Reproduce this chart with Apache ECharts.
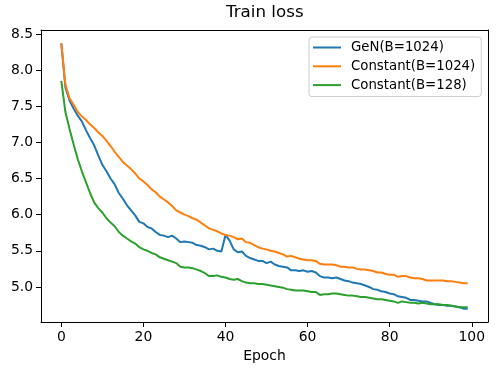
<!DOCTYPE html>
<html>
<head>
<meta charset="utf-8">
<script src="https://cdn.jsdelivr.net/npm/echarts@6/dist/echarts.min.js"></script>
<style>
  html, body { margin: 0; padding: 0; background: #fff; }
  #main { width: 499px; height: 372px; }
</style>
</head>
<body>
<div id="main"></div>
<script>
// epochs 0..99
var epochs = [];
for (var i = 0; i < 100; i++) epochs.push(i);

var genB1024 = [
  8.37, 7.76, 7.58, 7.47, 7.37, 7.29, 7.17, 7.06, 6.96, 6.82,
  6.69, 6.60, 6.50, 6.42, 6.30, 6.22, 6.13, 6.06, 5.99, 5.90,
  5.88, 5.83, 5.81, 5.76, 5.72, 5.71, 5.69, 5.71, 5.67, 5.62,
  5.63, 5.62, 5.61, 5.58, 5.57, 5.55, 5.52, 5.53, 5.50, 5.49,
  5.72, 5.64, 5.52, 5.48, 5.49, 5.43, 5.40, 5.38, 5.36, 5.36,
  5.33, 5.35, 5.31, 5.29, 5.28, 5.27, 5.23, 5.23, 5.22, 5.23,
  5.21, 5.22, 5.20, 5.15, 5.13, 5.13, 5.12, 5.13, 5.11, 5.09,
  5.08, 5.06, 5.05, 5.04, 5.02, 5.00, 4.97, 4.96, 4.94, 4.93,
  4.91, 4.90, 4.87, 4.86, 4.85, 4.82, 4.82, 4.81, 4.80, 4.80,
  4.78, 4.76, 4.75, 4.75, 4.74, 4.74, 4.73, 4.72, 4.70, 4.70
];

var constB1024 = [
  8.37, 7.80, 7.61, 7.52, 7.42, 7.36, 7.31, 7.25, 7.20, 7.14,
  7.09, 7.02, 6.95, 6.87, 6.80, 6.73, 6.68, 6.63, 6.57, 6.50,
  6.46, 6.41, 6.35, 6.31, 6.25, 6.21, 6.17, 6.12, 6.06, 6.03,
  6.00, 5.98, 5.95, 5.93, 5.89, 5.85, 5.81, 5.79, 5.77, 5.74,
  5.72, 5.71, 5.69, 5.66, 5.67, 5.62, 5.61, 5.58, 5.55, 5.53,
  5.52, 5.50, 5.49, 5.47, 5.45, 5.42, 5.43, 5.41, 5.39, 5.38,
  5.37, 5.37, 5.36, 5.32, 5.31, 5.31, 5.31, 5.30, 5.28, 5.28,
  5.27, 5.27, 5.25, 5.24, 5.24, 5.23, 5.22, 5.20, 5.20, 5.18,
  5.17, 5.17, 5.14, 5.15, 5.15, 5.13, 5.12, 5.12, 5.11, 5.09,
  5.09, 5.09, 5.09, 5.09, 5.08, 5.08, 5.07, 5.06, 5.05, 5.05
];

var constB128 = [
  7.85, 7.42, 7.19, 6.97, 6.77, 6.60, 6.45, 6.30, 6.17, 6.09,
  6.03, 5.95, 5.89, 5.84, 5.76, 5.71, 5.67, 5.63, 5.60, 5.55,
  5.52, 5.50, 5.47, 5.45, 5.41, 5.39, 5.37, 5.35, 5.33, 5.28,
  5.27, 5.27, 5.26, 5.24, 5.22, 5.19, 5.15, 5.15, 5.16, 5.14,
  5.13, 5.11, 5.10, 5.11, 5.08, 5.06, 5.05, 5.05, 5.04, 5.04,
  5.03, 5.02, 5.01, 5.00, 4.99, 4.97, 4.96, 4.95, 4.95, 4.95,
  4.94, 4.93, 4.93, 4.89, 4.90, 4.90, 4.91, 4.91, 4.90, 4.89,
  4.88, 4.88, 4.87, 4.86, 4.86, 4.85, 4.84, 4.83, 4.83, 4.82,
  4.81, 4.80, 4.78, 4.80, 4.79, 4.78, 4.78, 4.77, 4.78, 4.77,
  4.76, 4.76, 4.76, 4.75, 4.75, 4.74, 4.73, 4.72, 4.72, 4.72
];

var xTicks = [0, 20, 40, 60, 80, 100];
var yTicks = [5.0, 5.5, 6.0, 6.5, 7.0, 7.5, 8.0, 8.5];

function pairs(vals) {
  return epochs.map(function (e, i) { return [e, vals[i]]; });
}

var font = "DejaVu Sans";
var xMin = -4.95, xMax = 103.95;
var yMin = 4.515, yMax = 8.555;
var myChart = echarts.init(document.getElementById("main"));

// plain frame axes for top / right spines
var frameLine = { show: true, onZero: false, lineStyle: { color: "#000", width: 1 } };

myChart.setOption({
  animation: false,
  textStyle: { fontFamily: font },
  title: {
    text: "Train loss",
    left: 226,
    top: 4,
    padding: 0,
    textStyle: { fontFamily: font, fontSize: 16.7, fontWeight: "normal", color: "#000" }
  },
  legend: {
    orient: "vertical",
    left: 309,
    top: 37,
    padding: [4, 6, 5, 4],
    itemWidth: 28,
    itemHeight: 2,
    itemGap: 5.8,
    icon: "rect",
    backgroundColor: "#fff",
    borderColor: "#cccccc",
    borderWidth: 1,
    borderRadius: 3,
    textStyle: { fontFamily: font, fontSize: 13.3, color: "#000", padding: [0, 0, 0, 5] },
    data: ["GeN(B=1024)", "Constant(B=1024)", "Constant(B=128)"]
  },
  grid: {
    left: 41,
    right: 11,
    top: 30,
    bottom: 50
  },
  xAxis: [
    {
      type: "value",
      min: xMin,
      max: xMax,
      name: "Epoch",
      nameLocation: "middle",
      nameGap: 25,
      nameTextStyle: { fontFamily: font, fontSize: 13.9, color: "#000" },
      axisLine: frameLine,
      axisTick: { show: true, inside: false, length: 5, customValues: xTicks, lineStyle: { color: "#000" } },
      axisLabel: {
        margin: 8,
        customValues: xTicks,
        fontFamily: font,
        fontSize: 13.9,
        color: "#000"
      },
      splitLine: { show: false }
    },
    {
      type: "value",
      position: "top",
      min: xMin,
      max: xMax,
      axisLine: frameLine,
      axisTick: { show: false },
      axisLabel: { show: false },
      splitLine: { show: false }
    }
  ],
  yAxis: [
    {
      type: "value",
      min: yMin,
      max: yMax,
      axisLine: frameLine,
      axisTick: { show: true, inside: false, length: 5, customValues: yTicks, lineStyle: { color: "#000" } },
      axisLabel: {
        margin: 8,
        customValues: yTicks,
        fontFamily: font,
        fontSize: 13.9,
        color: "#000",
        formatter: function (v) { return v.toFixed(1); }
      },
      splitLine: { show: false }
    },
    {
      type: "value",
      position: "right",
      min: yMin,
      max: yMax,
      axisLine: frameLine,
      axisTick: { show: false },
      axisLabel: { show: false },
      splitLine: { show: false }
    }
  ],
  series: [
    {
      name: "GeN(B=1024)",
      type: "line",
      showSymbol: false,
      color: "#1f77b4",
      lineStyle: { width: 2 },
      data: pairs(genB1024)
    },
    {
      name: "Constant(B=1024)",
      type: "line",
      showSymbol: false,
      color: "#ff7f0e",
      lineStyle: { width: 2 },
      data: pairs(constB1024)
    },
    {
      name: "Constant(B=128)",
      type: "line",
      showSymbol: false,
      color: "#2ca02c",
      lineStyle: { width: 2 },
      data: pairs(constB128)
    }
  ]
});
</script>
</body>
</html>
